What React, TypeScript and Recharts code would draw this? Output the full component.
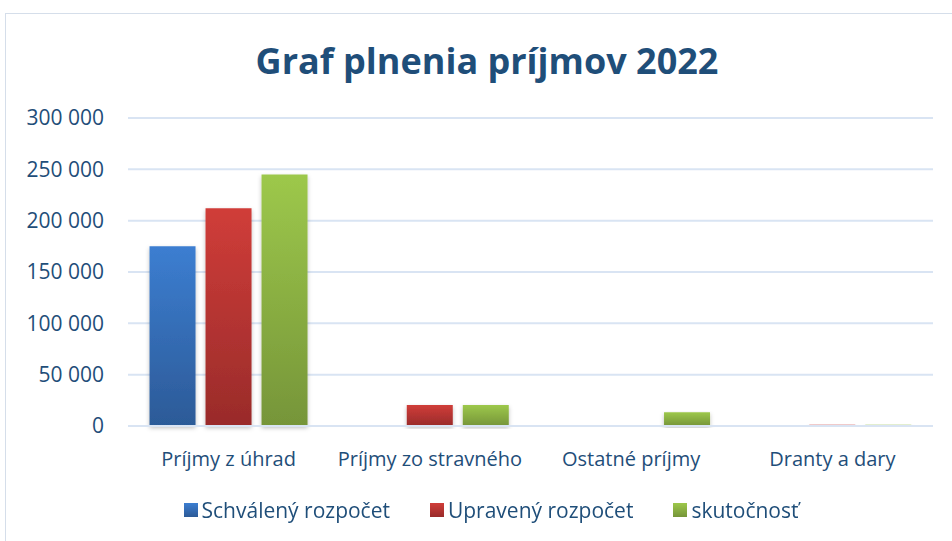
import { BarChart, Bar, XAxis, YAxis, CartesianGrid } from "recharts";

const categories = ["Príjmy z úhrad", "Príjmy zo stravného", "Ostatné príjmy", "Dranty a dary"];
const schvaleny = [175000, 0, 0, 0];
const upraveny = [212000, 20500, 0, 1200];
const skutocnost = [245000, 20500, 13500, 1200];
const yTicks = [0, 50000, 100000, 150000, 200000, 250000, 300000];

const series = [
  { key: "schvaleny", name: "Schválený rozpočet", grad: "gBlue", top: "#3C7ED1", bottom: "#2C5A97" },
  { key: "upraveny", name: "Upravený rozpočet", grad: "gRed", top: "#D03D39", bottom: "#992B2A" },
  { key: "skutocnost", name: "skutočnosť", grad: "gGreen", top: "#9DC84B", bottom: "#769539" },
];

const data = categories.map((c, i) => ({
  name: c,
  schvaleny: schvaleny[i],
  upraveny: upraveny[i],
  skutocnost: skutocnost[i],
}));

const font = "'Open Sans', sans-serif";
const textColor = "#1F4E79";
const gridColor = "#D9E4F3";

const fmt = (v: number) => String(v).replace(/\B(?=(\d{3})+(?!\d))/g, " ");

function LegendBox() {
  return (
    <div
      style={{
        position: "absolute",
        top: 496,
        left: 15,
        width: 952,
        display: "flex",
        justifyContent: "center",
        gap: 40,
        fontFamily: font,
        fontSize: 21,
        color: textColor,
      }}
    >
      {series.map((s) => (
        <div key={s.key} style={{ display: "flex", alignItems: "center", gap: 4 }}>
          <span
            style={{
              width: 14,
              height: 14,
              display: "inline-block",
              background: `linear-gradient(${s.top}, ${s.bottom})`,
            }}
          />
          <span>{s.name}</span>
        </div>
      ))}
    </div>
  );
}

export default function App() {
  return (
    <div style={{ position: "fixed", left: 0, top: 0, width: 952, height: 541, background: "#fff" }}>
      <div
        style={{
          position: "absolute",
          left: 5,
          top: 13,
          right: -2,
          bottom: -2,
          border: "1px solid #D5DEEA",
        }}
      />
      <div
        style={{
          position: "absolute",
          top: 36,
          left: 0,
          width: 974,
          textAlign: "center",
          fontFamily: font,
          fontWeight: 700,
          fontSize: 36,
          color: textColor,
        }}
      >
        Graf plnenia príjmov 2022
      </div>
      <div style={{ position: "absolute", left: 0, top: 0 }}>
        <BarChart
          width={952}
          height={541}
          data={data}
          margin={{ top: 118, right: 19, bottom: 85, left: 0 }}
          barGap={10}
          barCategoryGap="10.7%"
        >
          <defs>
            {series.map((s) => (
              <linearGradient key={s.grad} id={s.grad} x1="0" y1="0" x2="0" y2="1">
                <stop offset="0%" stopColor={s.top} />
                <stop offset="100%" stopColor={s.bottom} />
              </linearGradient>
            ))}
            <filter id="shadow" x="-20%" y="-5%" width="140%" height="115%">
              <feDropShadow dx="0" dy="2" stdDeviation="2" floodColor="#000" floodOpacity="0.25" />
            </filter>
          </defs>
          <CartesianGrid vertical={false} stroke={gridColor} strokeWidth={2} />
          <XAxis
            dataKey="name"
            axisLine={{ stroke: gridColor, strokeWidth: 2 }}
            tickLine={false}
            tick={{ fill: textColor, fontFamily: font, fontSize: 20 }}
            tickMargin={20}
          />
          <YAxis
            width={128}
            domain={[0, 300000]}
            ticks={yTicks}
            tickFormatter={fmt}
            axisLine={false}
            tickLine={false}
            tickMargin={18}
            tick={{ fill: textColor, fontFamily: font, fontSize: 21 }}
          />
          {series.map((s) => (
            <Bar
              key={s.key}
              dataKey={s.key}
              name={s.name}
              fill={`url(#${s.grad})`}
              filter="url(#shadow)"
              isAnimationActive={false}
            />
          ))}
        </BarChart>
      </div>
      <LegendBox />
    </div>
  );
}
